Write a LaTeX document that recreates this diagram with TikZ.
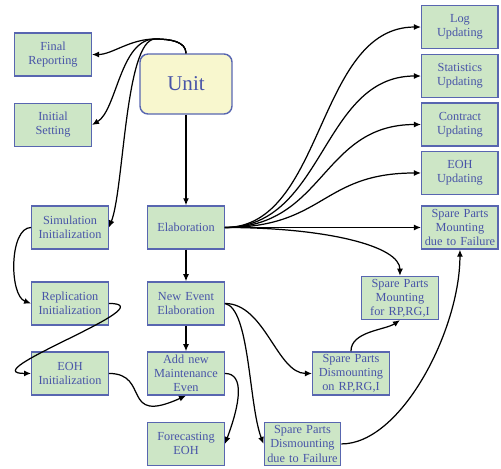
\documentclass[tikz,border=0pt]{standalone}
\usepackage{fontspec}
\setmainfont{Liberation Serif}
\usepackage{tikz}
\usetikzlibrary{shapes,arrows.meta}
\definecolor{boxgreen}{RGB}{205,230,198}
\definecolor{boxblue}{RGB}{88,102,176}
\definecolor{txtblue}{RGB}{72,84,168}
\definecolor{unityellow}{RGB}{248,247,206}
\tikzstyle{block} = [rectangle, draw=boxblue, fill=boxgreen, line width=0.8pt,
text width=1.46cm, text centered, minimum height=0.86cm, inner sep=1pt, font=\scriptsize, text=txtblue]
\tikzstyle{unitblock} = [rectangle, draw=boxblue, fill=unityellow, line width=0.8pt,
rounded corners=0.16cm, minimum width=1.84cm, minimum height=1.2cm, font=\large, text=txtblue]
\tikzstyle{line} = [draw, line width=0.7pt, -{Latex[length=4pt,width=3.4pt]}]
\begin{document}
\begin{tikzpicture}[x=0.02cm,y=-0.02cm]
	\useasboundingbox (0,0) rectangle (501,468);
	% Place nodes
	\node [unitblock] at (186,84) (unit) {Unit};
	\coordinate (hub) at (155,39);
	% Left column
	\node [block, left of=unit, node distance=2.66cm, yshift=0.59cm] (final) {Final\\Reporting};
	\node [block, below of=final, node distance=1.41cm] (initial) {Initial\\Setting};
	% Main chain
	\node [block, below of=unit, node distance=2.87cm] (elab) {Elaboration}; \path [line] (unit) -- (elab);
	\node [block, below of=elab, node distance=1.52cm] (newev) {New Event\\Elaboration}; \path [line] (elab) -- (newev);
	\node [block, below of=newev, node distance=1.40cm] (addnew) {Add new\\Maintenance\\Even}; \path [line] (newev) -- (addnew);
	\node [block, below of=addnew, node distance=1.41cm] (forecast) {Forecasting\\EOH};
	% Initialization
	\node [block, left of=elab, node distance=2.32cm] (sim) {Simulation\\Initialization};
	\node [block, left of=newev, node distance=2.32cm] (repl) {Replication\\Initialization};
	\node [block, left of=addnew, node distance=2.32cm] (eohinit) {EOH\\Initialization};
	% Right column
	\node [block, right of=elab, node distance=5.48cm] (spmfail) {Spare Parts\\Mounting\\due to Failure}; \path [line] (elab) -- (spmfail);
	\node [block, above of=spmfail, node distance=1.09cm] (eohupd) {EOH\\Updating};
	\node [block, above of=eohupd, node distance=0.97cm] (contract) {Contract\\Updating};
	\node [block, above of=contract, node distance=0.97cm] (stats) {Statistics\\Updating};
	\node [block, above of=stats, node distance=0.98cm] (log) {Log\\Updating};
	% Spare parts
	\node [block, right of=newev, node distance=4.28cm, yshift=0.11cm] (spmrp) {Spare Parts\\Mounting\\for RP,RG,I};
	\node [block, right of=addnew, node distance=3.3cm] (spdrp) {Spare Parts\\Dismounting\\on RP,RG,I};
	\node [block, right of=forecast, node distance=2.33cm] (spdfail) {Spare Parts\\Dismounting\\due to Failure};
	% Draw edges
	\path [line] (unit.north) .. controls +(0,-12) and +(15,0) .. (hub) .. controls +(-25,0) and +(20,0) .. (final.east);
	\path [line] (unit.north) .. controls +(0,-12) and +(15,0) .. (hub) .. controls +(-35,0) and +(25,-15) .. (initial.east);
	\path [line] (unit.north) .. controls +(0,-12) and +(15,0) .. (hub) .. controls +(-30,1) and +(15,-38) .. (sim.east);
	\path [line] (sim.west) .. controls +(-22,0) and +(-22,-8) .. (repl.west);
	\path [line] (repl.east) .. controls +(60,0) and +(-60,0) .. (eohinit.west);
	\path [line] (eohinit.east) .. controls +(42,0) and +(-66,30) .. (addnew.south);
	\path [line] (addnew.east) .. controls +(20,0) and +(15,-40) .. (forecast.east);
	\path [line] (elab.east) .. controls +(100,0) and +(-105,0) .. (log.west);
	\path [line] (elab.east) .. controls +(100,0) and +(-100,0) .. (stats.west);
	\path [line] (elab.east) .. controls +(100,0) and +(-100,0) .. (contract.west);
	\path [line] (elab.east) .. controls +(100,0) and +(-100,0) .. (eohupd.west);
	\path [line] (elab.east) .. controls +(100,0) and +(0,-30) .. (spmrp.north);
	\path [line] (newev.east) .. controls +(40,0) and +(-35,0) .. (spdrp.west);
	\path [line] (newev.east) .. controls +(25,5) and +(-15,-40) .. (spdfail.west);
	\path [line] (spdrp.north) .. controls +(0,-20) and +(-15,10) .. (spmrp.south);
	\path [line] (spdfail.east) .. controls +(60,0) and +(0,80) .. (spmfail.south);
\end{tikzpicture}
\end{document}
